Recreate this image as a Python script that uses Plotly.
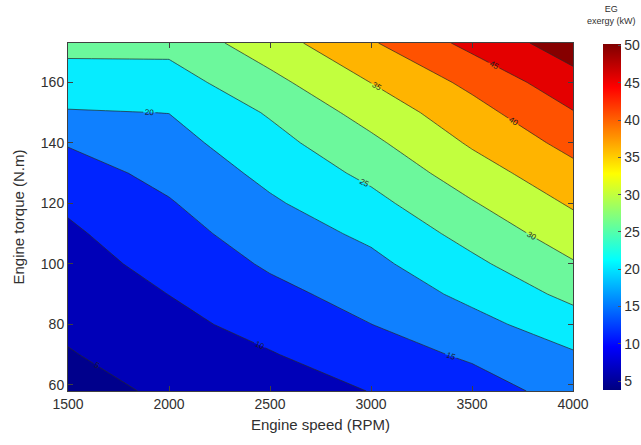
import plotly.graph_objects as go

# ---- data ----
speed_rpm = [1500, 2000, 2500, 3000, 3500, 4000]
torque_nm = [58, 70, 80, 90, 100, 110, 120, 130, 140, 150, 160, 173]
# rows follow torque_nm, columns follow speed_rpm
exergy_kw = [
    [3.40, 5.72, 7.40, 10.13, 12.70, 16.98],
    [4.70, 7.34, 9.70, 12.76, 15.74, 19.48],
    [5.85, 8.69, 11.64, 14.96, 18.47, 22.76],
    [6.97, 10.05, 13.66, 16.88, 21.20, 26.28],
    [8.10, 11.57, 15.63, 18.81, 23.93, 29.57],
    [9.23, 13.10, 17.47, 20.97, 26.75, 32.64],
    [10.71, 14.63, 19.32, 23.54, 29.63, 35.63],
    [12.95, 16.39, 21.28, 26.19, 32.67, 38.51],
    [15.34, 18.21, 23.30, 28.95, 35.62, 41.54],
    [19.66, 20.06, 25.50, 31.94, 38.20, 44.74],
    [22.69, 22.82, 28.60, 35.07, 41.21, 48.17],
    [26.50, 26.55, 32.78, 39.49, 46.43, 52.66],
]
x_ticks = [1500, 2000, 2500, 3000, 3500, 4000]
y_ticks = [60, 80, 100, 120, 140, 160]
cbar_ticks = [5, 10, 15, 20, 25, 30, 35, 40, 45, 50]

# ---- styling ----
band_colors = ["#00008c", "#0000b8", "#0024ff", "#0f80ff", "#06ecff",
               "#6cf89c", "#c2ff3e", "#ffb400", "#ff5200", "#e40000", "#860000"]
n = len(band_colors)
fill_scale = []
for k, c in enumerate(band_colors):
    lo = max(0.0, (k - 0.5) / (n - 1))
    hi = min(1.0, (k + 0.5) / (n - 1))
    fill_scale.append([lo, c])
    fill_scale.append([hi, c])


def jet(f):
    def cl(v):
        return max(0.0, min(1.0, v))
    r = cl(1.5 - abs(4 * f - 3))
    g = cl(1.5 - abs(4 * f - 2))
    b = cl(1.5 - abs(4 * f - 1))
    return "rgb(%d,%d,%d)" % (round(r * 255), round(g * 255), round(b * 255))


jet_scale = [[i / 64, jet(i / 64)] for i in range(65)]

font_family = "Liberation Sans, Arial, Helvetica, sans-serif"
txt = "#303030"

fig = go.Figure()

# invisible trace only used to show a continuous jet colour bar
fig.add_trace(go.Heatmap(
    x=speed_rpm, y=torque_nm, z=exergy_kw,
    colorscale=jet_scale, zmin=3.8, zmax=50.2, opacity=0,
    hoverinfo="skip",
    colorbar=dict(
        x=1.0594, xanchor="left", xpad=0, ypad=0,
        y=0.5, yanchor="middle", len=346, lenmode="pixels",
        thickness=18, thicknessmode="pixels",
        outlinewidth=0,
        tickvals=cbar_ticks, ticks="inside", ticklen=3, tickcolor="#555",
        tickfont=dict(family=font_family, size=14, color=txt),
    ),
))

fig.add_trace(go.Contour(
    x=speed_rpm, y=torque_nm, z=exergy_kw,
    autocontour=False,
    contours=dict(start=5, end=50, size=5, coloring="fill",
                  showlabels=True,
                  labelfont=dict(family=font_family, size=8, color="#1e1e1e")),
    colorscale=fill_scale, zmin=2.5, zmax=52.5,
    line=dict(color="#262626", width=0.7, smoothing=0),
    showscale=False,
    hoverinfo="skip",
))

fig.add_annotation(
    text="EG<br>exergy (kW)", xref="paper", yref="paper",
    x=1.077, y=1.118, xanchor="center", yanchor="top",
    showarrow=False, align="center",
    font=dict(family=font_family, size=9, color=txt),
)

axis_common = dict(
    showgrid=False, zeroline=False, showline=True, linecolor="#404040",
    linewidth=1, mirror="ticks", ticks="inside", ticklen=5,
    tickcolor="#404040",
    tickfont=dict(family=font_family, size=14, color=txt),
)

fig.update_layout(
    width=680, height=445,
    margin=dict(l=68, r=107, t=43, b=54),
    paper_bgcolor="white", plot_bgcolor="white",
    showlegend=False,
    xaxis=dict(range=[1500, 4000], tickvals=x_ticks,
               title=dict(text="Engine speed (RPM)", standoff=8,
                          font=dict(family=font_family, size=15, color=txt)),
               **axis_common),
    yaxis=dict(range=[58, 173], tickvals=y_ticks,
               title=dict(text="Engine torque (N.m)", standoff=12,
                          font=dict(family=font_family, size=15, color=txt)),
               **axis_common),
)

fig.write_html(
    "out.html",
    config={"displayModeBar": False},
    post_script="document.body.style.margin='0px';"
                "document.body.style.overflow='hidden';"
                "document.documentElement.style.overflow='hidden';",
)
